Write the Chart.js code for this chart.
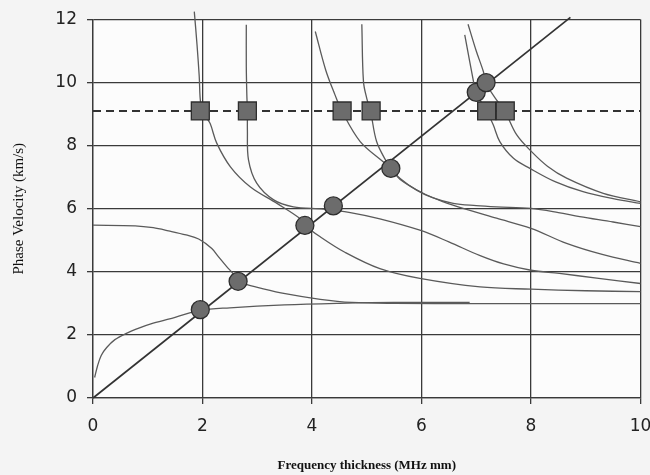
<!DOCTYPE html>
<html>
<head>
<meta charset="utf-8">
<script src="https://cdn.jsdelivr.net/npm/chart.js@4/dist/chart.umd.min.js"></script>
<style>
  html, body { margin: 0; padding: 0; background: #f4f4f4; }
  #wrap { width: 650px; height: 475px; }
</style>
</head>
<body>
<div id="wrap"><canvas id="chart" width="650" height="475"></canvas></div>
<script>
// ---- data (frequency thickness MHz mm, phase velocity km/s) ----
const xTicks = [0, 2, 4, 6, 8, 10];
const yTicks = [0, 2, 4, 6, 8, 10, 12];

const modeA0 = [[0.03,0.65],[0.08,1.0],[0.15,1.35],[0.25,1.6],[0.4,1.85],[0.6,2.04],[0.85,2.22],[1.1,2.37],[1.5,2.56],[1.96,2.78],[2.5,2.86],[3.5,2.95],[4.5,3.0],[5.5,3.03],[6.88,3.03]];
const modeS0 = [[0,5.48],[0.77,5.46],[1.1,5.4],[1.38,5.3],[1.7,5.17],[1.93,5.04],[2.17,4.74],[2.29,4.48],[2.45,4.15],[2.54,3.98],[2.65,3.7],[2.8,3.6],[3.02,3.5],[3.51,3.31],[4.15,3.13],[4.73,3.03],[5.5,3.0],[7,2.99],[10,2.99]];
const modeA1 = [[1.85,12.25],[1.9,11.2],[1.94,10.2],[1.97,9.3],[2.05,8.95],[2.14,8.7],[2.26,8.08],[2.51,7.33],[2.87,6.7],[3.36,6.17],[3.78,5.69],[3.87,5.48],[4.15,5.11],[4.6,4.62],[5.24,4.1],[5.97,3.79],[7.07,3.52],[8,3.45],[9,3.4],[10,3.37]];
const modeS1 = [[2.8,11.83],[2.8,10.5],[2.81,9.6],[2.82,9.1],[2.82,8.5],[2.84,7.55],[2.99,6.81],[3.3,6.28],[3.66,6.06],[4.21,5.99],[4.7,5.88],[5.24,5.68],[5.97,5.32],[6.5,4.95],[7.06,4.52],[7.5,4.25],[8,4.05],[8.52,3.95],[9.2,3.8],[10,3.63]];
const modeA2 = [[4.06,11.62],[4.25,10.4],[4.42,9.61],[4.55,9.08],[4.88,8.13],[5.3,7.49],[5.44,7.28],[5.61,6.93],[6.03,6.49],[6.4,6.22],[6.76,6.01],[7.37,5.7],[8,5.38],[8.65,4.9],[9.3,4.55],[10,4.27]];
const modeS2 = [[4.91,11.85],[4.94,10.03],[5.0,9.5],[5.07,9.08],[5.18,8.13],[5.36,7.49],[5.44,7.28],[5.61,6.96],[5.91,6.59],[6.2,6.35],[6.58,6.17],[7.0,6.1],[7.37,6.06],[8.0,6.01],[8.5,5.88],[8.89,5.75],[9.5,5.58],[10,5.43]];
const modeA3 = [[6.79,11.51],[6.95,10.03],[6.99,9.69],[7.19,9.1],[7.31,8.66],[7.43,8.13],[7.68,7.6],[7.98,7.28],[8.45,6.85],[8.95,6.54],[9.5,6.32],[10,6.17]];
const modeS3 = [[6.85,11.85],[7.0,11.0],[7.13,10.35],[7.18,9.98],[7.35,9.5],[7.52,9.1],[7.74,8.34],[8.01,7.81],[8.3,7.35],[8.65,6.97],[9.32,6.49],[10,6.22]];

const diagLine = [[0,0],[8.72,12.07]];
const dashLine = [[0,9.1],[10,9.1]];
const circlePts = [[1.96,2.8],[2.65,3.7],[3.87,5.47],[4.39,6.09],[5.44,7.28],[7.0,9.69],[7.18,10.0]];
const squarePts = [[1.96,9.1],[2.82,9.1],[4.55,9.1],[5.08,9.1],[7.19,9.1],[7.53,9.1]];

// ---- helpers ----
const pts = arr => arr.map(([x, y]) => ({ x, y }));
const curve = arr => ({
  data: pts(arr), showLine: true, pointRadius: 0, borderColor: "#5a5a5a",
  borderWidth: 1.3, tension: 0.35, clip: false, order: 3
});
const noPad = () => ({ left: 0, top: 0, right: 0, bottom: 0 });

const bgPlugin = {
  id: "bg",
  beforeDraw(chart) {
    const { ctx, chartArea: a } = chart;
    ctx.save();
    ctx.fillStyle = "#f4f4f4";
    ctx.fillRect(0, 0, chart.width, chart.height);
    ctx.fillStyle = "#fcfcfc";
    ctx.fillRect(a.left, a.top, a.right - a.left, a.bottom - a.top);
    ctx.restore();
  }
};

const gridOpts = { color: "#3a3a3a", lineWidth: 1.3, tickLength: 6, drawTicks: true };
const tickFont = { family: "DejaVu Sans", size: 17 };

new Chart(document.getElementById("chart"), {
  type: "scatter",
  data: {
    datasets: [
      { data: pts(circlePts), pointStyle: "circle", pointRadius: 9, pointHoverRadius: 9,
        backgroundColor: "#6c6c6c", borderColor: "#2e2e2e", borderWidth: 1.3, order: 0 },
      { data: pts(squarePts), pointStyle: "rect", pointRadius: 12.7, pointHoverRadius: 12.7,
        backgroundColor: "#6c6c6c", borderColor: "#2e2e2e", borderWidth: 1.3, order: 0 },
      { data: pts(diagLine), showLine: true, pointRadius: 0, borderColor: "#333",
        borderWidth: 1.7, clip: false, order: 1 },
      { data: pts(dashLine), showLine: true, pointRadius: 0, borderColor: "#333",
        borderWidth: 2, borderDash: [8, 5], order: 1 },
      curve(modeA0), curve(modeS0), curve(modeA1), curve(modeS1),
      curve(modeA2), curve(modeS2), curve(modeA3), curve(modeS3)
    ]
  },
  options: {
    responsive: false,
    animation: false,
    events: [],
    layout: { autoPadding: false, padding: { top: 19.5, right: 9.5, left: 0, bottom: 0 } },
    plugins: { legend: { display: false }, tooltip: { enabled: false } },
    scales: {
      x: {
        type: "linear", min: 0, max: 10,
        afterBuildTicks: s => { s.ticks = xTicks.map(v => ({ value: v })); },
        afterFit: s => { s.height = 77; s.getPadding = noPad; },
        grid: gridOpts,
        border: { color: "#3a3a3a", width: 1.3 },
        ticks: { font: tickFont, color: "#222", padding: 12, maxRotation: 0 },
        title: { display: true, text: "Frequency thickness (MHz mm)", color: "#111",
          font: { family: "Liberation Serif", size: 13, weight: "bold" }, padding: { top: 0, bottom: 2 } }
      },
      y: {
        type: "linear", min: 0, max: 12,
        afterBuildTicks: s => { s.ticks = yTicks.map(v => ({ value: v })); },
        afterFit: s => { s.width = 93; s.getPadding = noPad; },
        grid: gridOpts,
        border: { color: "#3a3a3a", width: 1.3 },
        ticks: { font: tickFont, color: "#222", padding: 10 },
        title: { display: true, text: "Phase Velocity (km/s)", color: "#111",
          font: { family: "Liberation Serif", size: 15 }, padding: { top: 10, bottom: 5 } }
      }
    }
  },
  plugins: [bgPlugin]
});
</script>
</body>
</html>
